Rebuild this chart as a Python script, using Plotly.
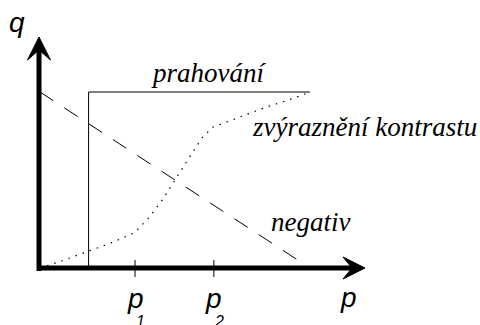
import plotly.graph_objects as go

# ---- data (normalised intensity units: p input, q output) ----
p_line = [0.0, 1.0]
neg_q = [1.0, 0.0]                       # negativ
thr_p = [0.18, 0.18, 1.0]               # prahování
thr_q = [0.0, 1.0, 1.0]
con_p = [0.0, 0.08, 0.17, 0.26, 0.35, 0.40, 0.45, 0.50, 0.55, 0.60, 0.64, 0.72, 0.84, 0.94, 1.0]
con_q = [0.0, 0.04, 0.09, 0.14, 0.20, 0.28, 0.38, 0.50, 0.62, 0.74, 0.80, 0.845, 0.915, 0.965, 1.0]
tick_p = [0.352, 0.644]
tick_labels = ["1", "2"]

W, H = 480, 325
X0, Y0, SX, SY = 40, 268, 270, 176       # origin pixel and unit scale
xr = [-X0 / SX, (W - X0) / SX]
yr = [-(H - Y0) / SY, Y0 / SY]

def dx(px):
    return px / SX

def dy(px):
    return px / SY

fig = go.Figure()
fig.add_trace(go.Scatter(x=p_line, y=neg_q, mode="lines",
                         line=dict(color="black", width=1, dash="16px,13px")))
fig.add_trace(go.Scatter(x=thr_p, y=thr_q, mode="lines",
                         line=dict(color="black", width=1)))
fig.add_trace(go.Scatter(x=con_p, y=con_q, mode="lines",
                         line=dict(color="black", width=1.2, dash="1.5px,6px")))

shapes = []
# axes
shapes.append(dict(type="line", x0=-dx(1), x1=-dx(1), y0=-dy(3), y1=dy(268 - 50),
                   line=dict(color="black", width=5)))
shapes.append(dict(type="line", x0=-dx(3), x1=dx(352 - 40), y0=0, y1=0,
                   line=dict(color="black", width=5)))
# arrow heads
ax = -dx(1)
shapes.append(dict(type="path", fillcolor="black", line=dict(color="black", width=1),
                   path=f"M {ax},{dy(231)} L {ax - dx(11.5)},{dy(208)} L {ax},{dy(218)} "
                        f"L {ax + dx(11.5)},{dy(208)} Z"))
shapes.append(dict(type="path", fillcolor="black", line=dict(color="black", width=1),
                   path=f"M {dx(325)},0 L {dx(303)},{dy(11)} L {dx(312)},0 "
                        f"L {dx(303)},{-dy(11)} Z"))
# ticks
for tp in tick_p:
    shapes.append(dict(type="line", x0=tp, x1=tp, y0=-dy(9), y1=dy(8),
                       line=dict(color="black", width=1)))

serif = dict(family="Liberation Serif", size=27, color="black")
sans = dict(family="Liberation Sans", size=28, color="black")
sub = dict(family="Liberation Sans", size=16, color="black")

ann = []
ann.append(dict(x=dx(208.5 - 40), y=dy(268 - 73), text="<i>prahování</i>", font=serif,
                showarrow=False, xanchor="center", yanchor="middle"))
ann.append(dict(x=dx(364 - 40), y=dy(268 - 127), text="<i>zvýraznění kontrastu</i>", font=serif,
                showarrow=False, xanchor="center", yanchor="middle"))
ann.append(dict(x=dx(310 - 40), y=dy(268 - 222), text="<i>negativ</i>", font=serif,
                showarrow=False, xanchor="center", yanchor="middle"))
ann.append(dict(x=-dx(23), y=dy(268 - 22), text="<i>q</i>", font=sans,
                showarrow=False, xanchor="center", yanchor="middle"))
ann.append(dict(x=dx(348 - 40), y=-dy(297 - 268), text="<i>p</i>", font=sans,
                showarrow=False, xanchor="center", yanchor="middle"))
for tp, lab in zip(tick_p, tick_labels):
    ann.append(dict(x=tp, y=-dy(298 - 268), text="<i>p</i>", font=sans,
                    showarrow=False, xanchor="center", yanchor="middle"))
    ann.append(dict(x=tp + dx(5), y=-dy(321 - 268), text=f"<i>{lab}</i>", font=sub,
                    showarrow=False, xanchor="center", yanchor="middle"))

fig.update_layout(width=W, height=H, margin=dict(l=0, r=0, t=0, b=0),
                  paper_bgcolor="white", plot_bgcolor="white", showlegend=False,
                  xaxis=dict(range=xr, visible=False),
                  yaxis=dict(range=yr, visible=False),
                  shapes=shapes, annotations=ann)
fig.write_html("out.html", config={"staticPlot": True},
               post_script="document.body.style.margin='0';document.body.style.overflow='hidden';")
